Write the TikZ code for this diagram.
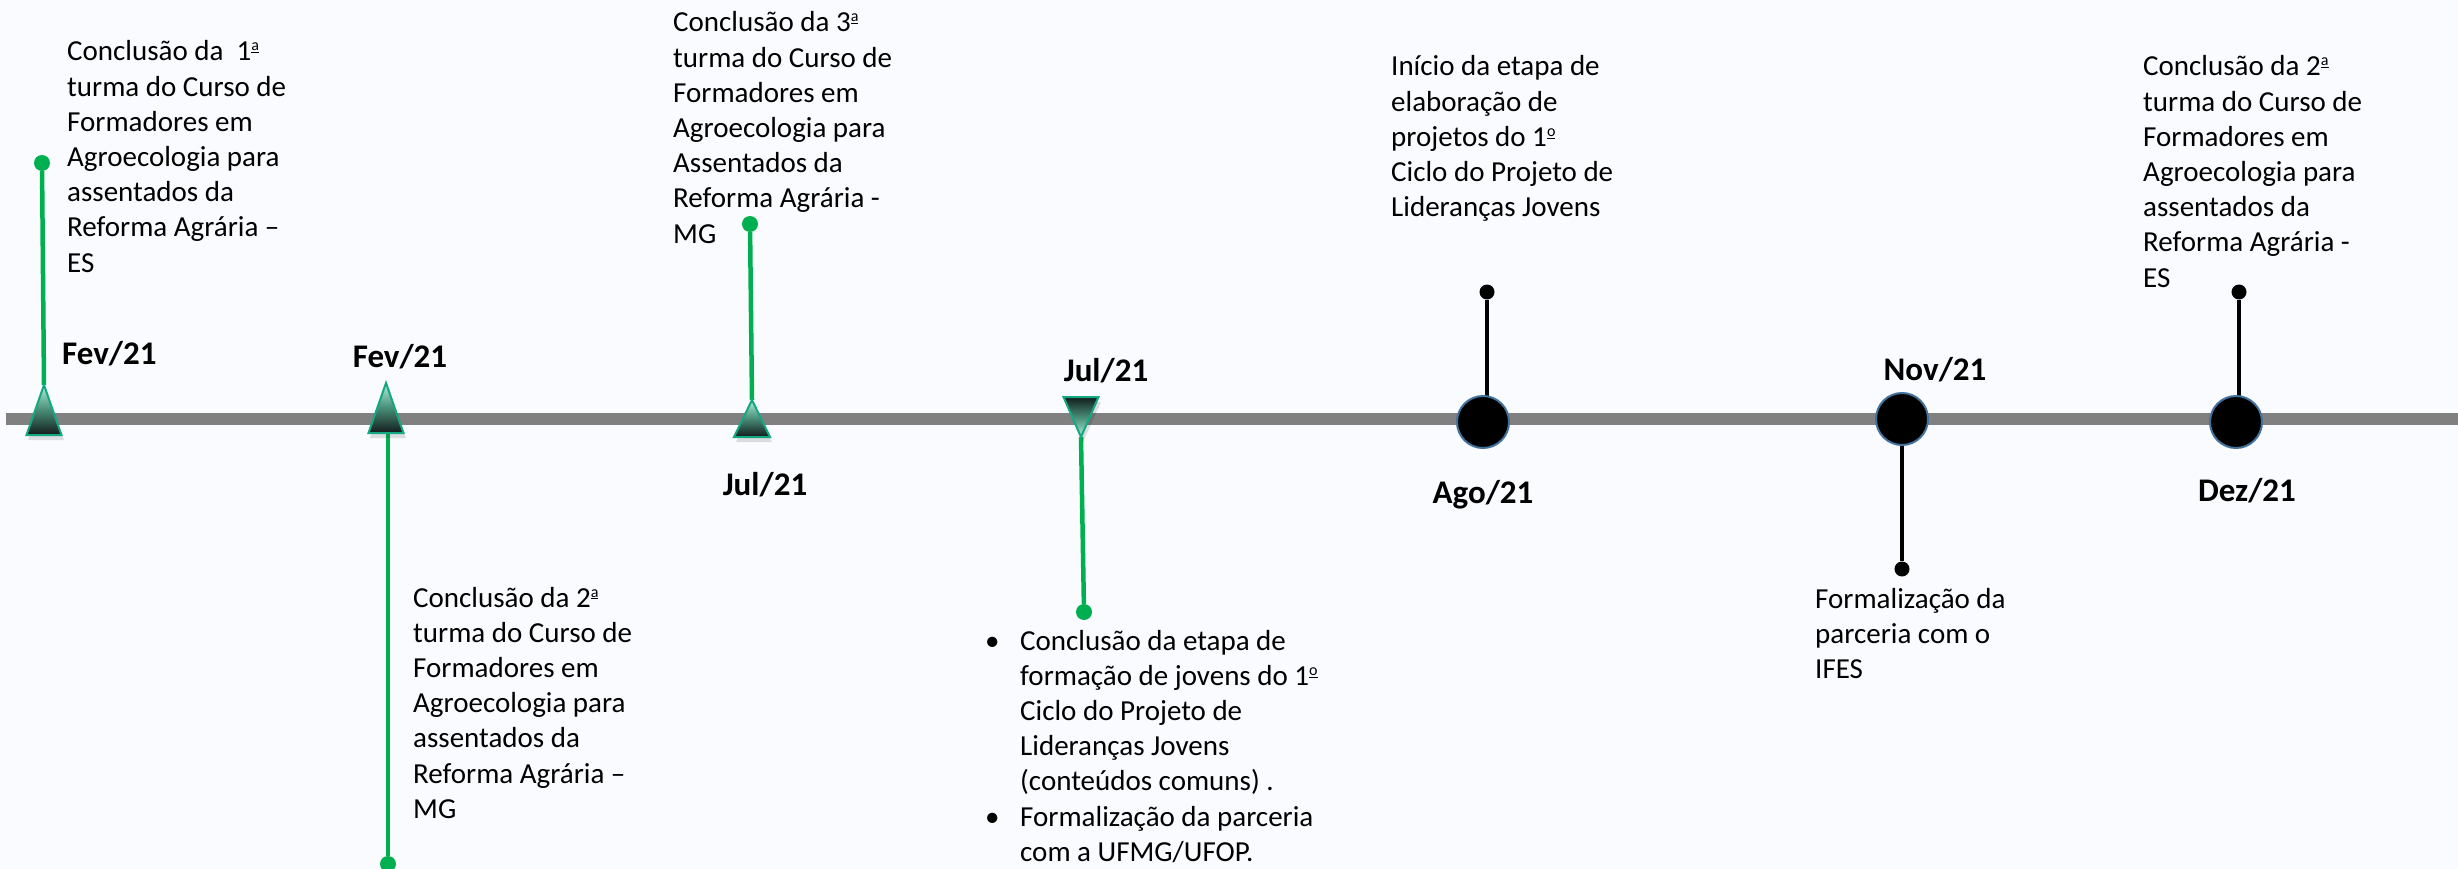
\documentclass[tikz,border=0pt]{standalone}
\usepackage{fontspec}
\setmainfont{Carlito}
\definecolor{bg}{RGB}{250,251,254}
\definecolor{grn}{RGB}{0,176,80}
\definecolor{barc}{RGB}{128,128,128}
\definecolor{tedge}{RGB}{20,168,130}
\definecolor{tlight}{RGB}{175,240,218}
\definecolor{tmid}{RGB}{72,140,118}
\definecolor{tdark}{RGB}{18,28,26}
\definecolor{cedge}{RGB}{65,113,156}
\newcommand\tbox[1]{\vtop{\baselineskip=35.2pt\lineskiplimit=-100pt\lineskip=0pt #1}}
\newcommand\ind{\hbox to 35pt{\hfil}}
\newcommand\orda{\raisebox{10pt}{\fontsize{16}{16}\selectfont\underline{a}}}
\newcommand\ordo{\raisebox{10pt}{\fontsize{16}{16}\selectfont\underline{o}}}
\begin{document}
\begin{tikzpicture}[x=1pt,y=-1pt,
  body/.style={anchor=base west, inner sep=0, font=\fontsize{29}{35.2}\selectfont, text=black},
  lbl/.style={inner sep=0, font=\fontsize{33}{40}\selectfont\bfseries, text=black},
  gstem/.style={draw=grn, line width=4.5pt},
  kstem/.style={draw=black, line width=4pt},
  gdot/.style={circle, fill=grn, inner sep=0, minimum size=16pt},
  kdot/.style={circle, fill=black, inner sep=0, minimum size=15pt},
  evt/.style={circle, fill=black, draw=cedge, line width=2pt, inner sep=0, minimum size=52pt},
  triedge/.style={draw=tedge, line width=2pt, line join=miter},
  upshade/.style={top color=tlight, bottom color=tdark, middle color=tmid},
  downshade/.style={top color=tdark, bottom color=tlight, middle color=tmid},
  shadow/.style={fill=black, opacity=0.12}]
\fill[bg] (0,0) rectangle (2458,869);
\useasboundingbox (0,0) rectangle (2458,869);
% timeline bar
\coordinate (barL) at (6,418.5);
\coordinate (barR) at (2458,418.5);
\draw[barc, line width=12pt] (barL) -- (barR);
% anchor points
\coordinate (a1) at (44,385);
\coordinate (a2) at (386,383);
\coordinate (b2) at (388,433);
\coordinate (a3) at (752,400);
\coordinate (a4) at (1081,437);
% dots
\node[gdot] (d1) at (42,163) {};
\node[gdot] (d2) at (388,864) {};
\node[gdot] (d3) at (750,224) {};
\node[gdot] (d4) at (1084,612) {};
\node[kdot] (k5) at (1487,292) {};
\node[kdot] (k6) at (1902,569) {};
\node[kdot] (k7) at (2239,292) {};
% stems
\draw[gstem] (d1) -- (a1);
\draw[gstem] (b2) -- (d2);
\draw[gstem] (d3) -- (a3);
\draw[gstem] (a4) -- (d4);
\draw[kstem] (k5) -- (1487,422);
\draw[kstem] (1902,419) -- (k6);
\draw[kstem] (k7) -- (2239,422);
% triangles
\fill[shadow] ([shift={(2,5)}]a1) -- ++(18,50) -- ++(-36,0) -- cycle;
\shade[upshade] (a1) -- ++(17.5,50) -- ++(-35,0) -- cycle;
\draw[triedge] (a1) -- ++(17.5,50) -- ++(-35,0) -- cycle;
\fill[shadow] ([shift={(2,5)}]a2) -- ++(18,50) -- ++(-36,0) -- cycle;
\shade[upshade] (a2) -- ++(17.5,50) -- ++(-35,0) -- cycle;
\draw[triedge] (a2) -- ++(17.5,50) -- ++(-35,0) -- cycle;
\fill[shadow] ([shift={(2,5)}]a3) -- ++(18,37) -- ++(-36,0) -- cycle;
\shade[upshade] (a3) -- ++(18,37) -- ++(-36,0) -- cycle;
\draw[triedge] (a3) -- ++(18,37) -- ++(-36,0) -- cycle;
\fill[shadow] ([shift={(2,5)}]a4) -- ++(18,-40) -- ++(-36,0) -- cycle;
\shade[downshade] (a4) -- ++(17.5,-40) -- ++(-35,0) -- cycle;
\draw[triedge] (a4) -- ++(17.5,-40) -- ++(-35,0) -- cycle;
% circles
\node[evt] (c5) at (1483,422) {};
\node[evt] (c6) at (1902,419) {};
\node[evt] (c7) at (2236,422) {};
% date labels
\node[lbl, anchor=base west] (l1) at (62,364) {Fev/21};
\node[lbl, anchor=base] (l2) at (400,367) {Fev/21};
\node[lbl, anchor=base] (l3) at (765,495) {Jul/21};
\node[lbl, anchor=base] (l4) at (1106,381) {Jul/21};
\node[lbl, anchor=base] (l5) at (1483,503) {Ago/21};
\node[lbl, anchor=base] (l6) at (1935,380) {Nov/21};
\node[lbl, anchor=base] (l7) at (2247,501) {Dez/21};
% texts
\node[body] (t1) at (67,61) {\tbox{%
  \hbox{Conclusão da\ \ 1\orda}
  \hbox{turma do Curso de}
  \hbox{Formadores em}
  \hbox{Agroecologia para}
  \hbox{assentados da}
  \hbox{Reforma Agrária –}
  \hbox{ES}}};
\node[body] (t2) at (413,607) {\tbox{%
  \hbox{Conclusão da 2\orda}
  \hbox{turma do Curso de}
  \hbox{Formadores em}
  \hbox{Agroecologia para}
  \hbox{assentados da}
  \hbox{Reforma Agrária –}
  \hbox{MG}}};
\node[body] (t3) at (673,32) {\tbox{%
  \hbox{Conclusão da 3\orda}
  \hbox{turma do Curso de}
  \hbox{Formadores em}
  \hbox{Agroecologia para}
  \hbox{Assentados da}
  \hbox{Reforma Agrária -}
  \hbox{MG}}};
\node[body] (t4) at (985,650) {\tbox{%
  \hbox{\hbox to 35pt{•\hfil}Conclusão da etapa de}
  \hbox{\ind formação de jovens do 1\ordo}
  \hbox{\ind Ciclo do Projeto de}
  \hbox{\ind Lideranças Jovens}
  \hbox{\ind (conteúdos comuns) .}
  \hbox{\hbox to 35pt{•\hfil}Formalização da parceria}
  \hbox{\ind com a UFMG/UFOP.}}};
\node[body] (t5) at (1391,76) {\tbox{%
  \hbox{Início da etapa de}
  \hbox{elaboração de}
  \hbox{projetos do 1\ordo}
  \hbox{Ciclo do Projeto de}
  \hbox{Lideranças Jovens}}};
\node[body] (t6) at (1815,608) {\tbox{%
  \hbox{Formalização da}
  \hbox{parceria com o}
  \hbox{IFES}}};
\node[body] (t7) at (2143,76) {\tbox{%
  \hbox{Conclusão da 2\orda}
  \hbox{turma do Curso de}
  \hbox{Formadores em}
  \hbox{Agroecologia para}
  \hbox{assentados da}
  \hbox{Reforma Agrária -}
  \hbox{ES}}};
\end{tikzpicture}
\end{document}
